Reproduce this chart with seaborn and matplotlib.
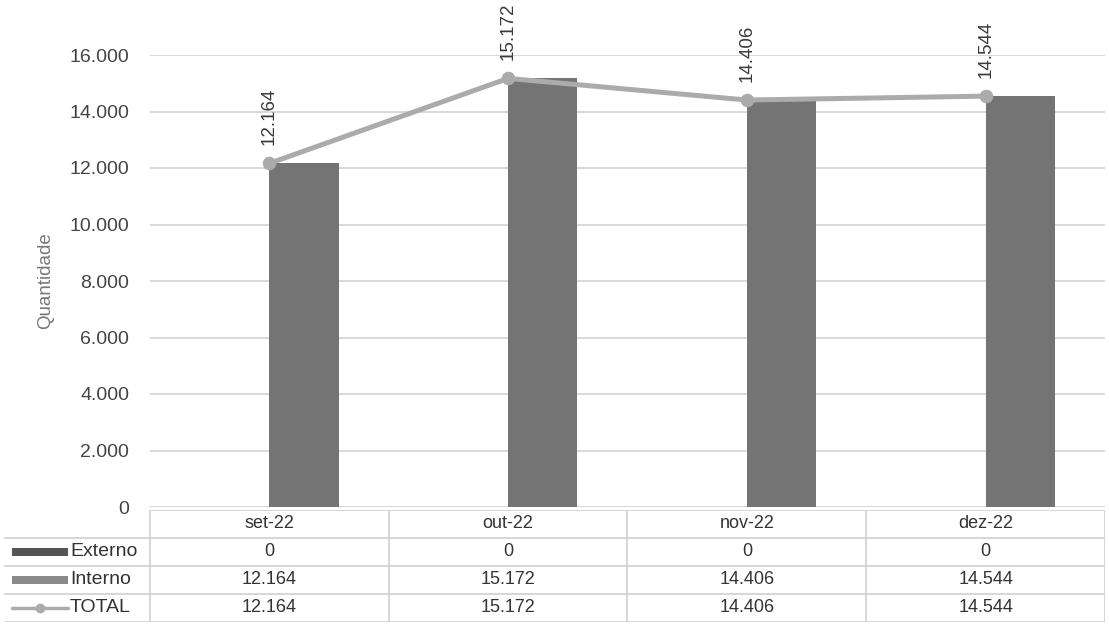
import matplotlib
matplotlib.use("Agg")
import matplotlib.pyplot as plt
import seaborn as sns
import pandas as pd
from matplotlib.patches import Rectangle

meses = ["set-22", "out-22", "nov-22", "dez-22"]
externo = [0, 0, 0, 0]
interno = [12164, 15172, 14406, 14544]
total = [12164, 15172, 14406, 14544]
series = ["Externo", "Interno", "TOTAL"]
yticks = [0, 2000, 4000, 6000, 8000, 10000, 12000, 14000, 16000]


def fmt(v):
    return f"{v:,.0f}".replace(",", ".")


sns.set_theme(style="white")
plt.rcParams["font.family"] = ["Liberation Sans", "DejaVu Sans"]

W, H = 1109, 629
fig = plt.figure(figsize=(W / 100, H / 100), dpi=100)
fig.patch.set_facecolor("white")

# main axes pixel geometry
x0, x1 = 150, 1105
y0, y1 = 507, 55
ax = fig.add_axes([x0 / W, (H - y0) / H, (x1 - x0) / W, (y0 - y1) / H])

c_ext = "#555555"
c_int = "#747474"
c_line = "#ababab"

df = pd.DataFrame({
    "mes": meses * 2,
    "valor": externo + interno,
    "serie": ["Externo"] * 4 + ["Interno"] * 4,
})
sns.barplot(data=df, x="mes", y="valor", hue="serie",
            palette={"Externo": c_ext, "Interno": c_int},
            width=0.58, dodge=True, legend=False, ax=ax, saturation=1,
            linewidth=0)

dl = pd.DataFrame({"mes": meses, "valor": total})
sns.lineplot(data=dl, x="mes", y="valor", ax=ax, color=c_line,
             linewidth=3.6, marker="o", markersize=9,
             markeredgecolor=c_line, markerfacecolor=c_line, zorder=5)

for i, v in enumerate(total):
    ax.annotate(fmt(v), (i, v), xytext=(0, 13), textcoords="offset points",
                rotation=90, ha="center", va="bottom", fontsize=13.5,
                color="#3a3a3a", annotation_clip=False, clip_on=False)

ax.set_xlim(-0.5, 3.5)
ax.set_ylim(0, 16000)
ax.set_yticks(yticks)
ax.set_yticklabels([fmt(v) for v in yticks], fontsize=14, color="#444444")
ax.tick_params(axis="y", length=0, pad=15)
ax.set_xticks([])
ax.set_xlabel("")
ax.set_ylabel("Quantidade", fontsize=13.5, color="#777777")
ax.yaxis.set_label_coords(-0.1, 0.5)
ax.grid(axis="y", color="#d6d6d6", linewidth=1.3)
ax.set_axisbelow(True)
for s in ax.spines.values():
    s.set_visible(False)

# data table below the axes
t_top, t_bot = 510, 622
tax = fig.add_axes([0, (H - t_bot) / H, x1 / W, (t_bot - t_top) / H])
colw = (x1 - x0) / 4.0
left_data = -0.5 - x0 / colw
tax.set_xlim(left_data, 3.5)
tax.set_ylim(4, 0)
tax.axis("off")
gc = "#cfcfcf"
tax.plot([-0.5, 3.5], [0, 0], color=gc, lw=1.2)
for r in (1, 2, 3, 4):
    tax.plot([left_data + 0.02, 3.5], [r, r], color=gc, lw=1.2)
for c in range(5):
    tax.plot([c - 0.5, c - 0.5], [0, 4], color=gc, lw=1.2)

for i, m in enumerate(meses):
    tax.text(i, 0.5, m, ha="center", va="center", fontsize=13, color="#333333")
rows = [externo, interno, total]
for r, vals in enumerate(rows):
    for i, v in enumerate(vals):
        tax.text(i, r + 1.5, fmt(v), ha="center", va="center",
                 fontsize=13, color="#333333")

# legend keys in table
kx0 = left_data + 12 / colw
kx1 = left_data + 68 / colw
lx = left_data + 70 / colw
tax.add_patch(Rectangle((kx0, 1.5 - 0.14), kx1 - kx0, 0.28, color=c_ext, lw=0))
tax.add_patch(Rectangle((kx0, 2.5 - 0.14), kx1 - kx0, 0.28, color="#8a8a8a", lw=0))
tax.plot([kx0, kx1], [3.5, 3.5], color=c_line, lw=2.5)
tax.plot([(kx0 + kx1) / 2], [3.5], marker="o", ms=6, color=c_line)
for r, name in enumerate(series):
    tax.text(lx, r + 1.5, name, ha="left", va="center", fontsize=14,
             color="#333333")

fig.savefig("out.png", dpi=100, facecolor="white")
